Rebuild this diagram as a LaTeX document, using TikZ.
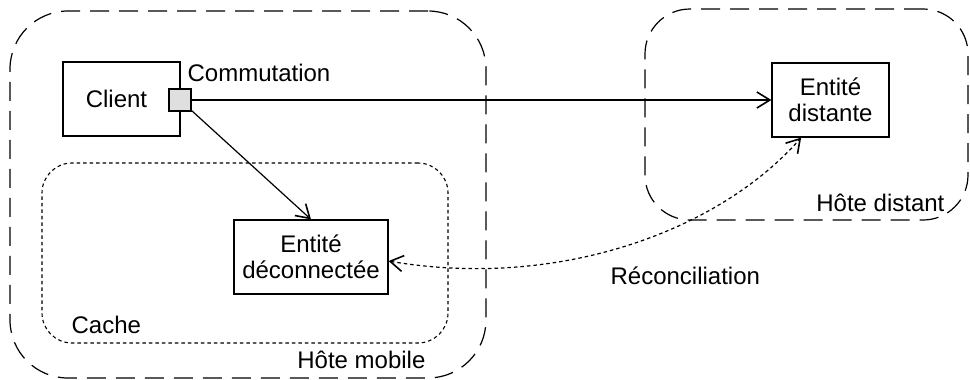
\documentclass[tikz,border=0pt]{standalone}
\usepackage{fontspec}
\setmainfont{Liberation Sans}
\usetikzlibrary{positioning,calc,arrows.meta}
\tikzset{
  entity/.style  = {rectangle,draw,line width=1.2pt,minimum width=117pt,
                    minimum height=74pt,align=center,inner sep=0pt},
  port/.style    = {rectangle,draw,line width=1.2pt,fill=gray!25,
                    minimum size=22pt,inner sep=0pt},
  host/.style    = {rectangle,draw,line width=1.2pt,rounded corners=58pt,
                    dash pattern=on 19pt off 10pt},
  cache/.style   = {rectangle,draw,line width=1.1pt,rounded corners=30pt,
                    dash pattern=on 3.5pt off 3pt},
  tag/.style     = {inner sep=0pt},
  >={Straight Barb[length=13pt,width=16pt,line width=1.6pt]}
}
\begin{document}
\begin{tikzpicture}[x=1pt,y=-1pt,line width=1.2pt,
    font=\fontsize{24}{26}\selectfont]
    \useasboundingbox (0,0) rectangle (970,380);

    % hosts and cache
    \node[host,minimum width=476pt,minimum height=367pt] (mobile) at (248,194.5) {};
    \node[host,rounded corners=45pt,minimum width=323pt,minimum height=211pt]
      (remote) at (806.5,114.5) {};
    \node[cache,minimum width=406pt,minimum height=180pt] (cache) at (245,253) {};

    \node[tag,anchor=east] (mobilelabel) at (426,360) {Hôte mobile};
    \node[tag,anchor=east] (remotelabel) at (945,203) {Hôte distant};
    \node[tag,anchor=west] (cachelabel) at (71,325) {Cache};

    % entities
    \node[entity] (client) at (121.5,99) {Client\hspace{10pt}};
    \node[port] (port) at (180,100) {};
    \node[tag,anchor=west] (commut) at (187,73) {Commutation};
    \node[entity,minimum width=154pt] (deco) at (311,257) {Entité\\déconnectée};
    \node[entity] (distante) at (830.5,100) {Entité\\distante};

    % connections
    \draw[->] (port) -- (distante);
    \draw[->] (port) -- (deco.north);
    \draw[<->,dash pattern=on 3.5pt off 3pt] (deco.-3)
      .. controls (560,290) and (720,230) .. (distante.-128);
    \node[tag,anchor=west] (reco) at (610,276) {Réconciliation};
\end{tikzpicture}
\end{document}
